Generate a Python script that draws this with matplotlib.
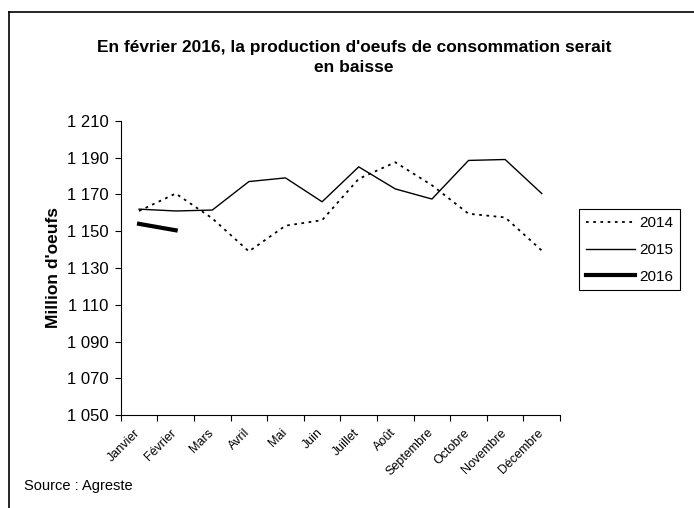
import numpy as np
import matplotlib.pyplot as plt
from matplotlib.ticker import FuncFormatter
from matplotlib.lines import Line2D
from matplotlib.transforms import ScaledTranslation

plt.rcParams['font.family'] = ['Liberation Sans', 'DejaVu Sans']

# Données (millions d'oeufs)
mois = ['Janvier', 'Février', 'Mars', 'Avril', 'Mai', 'Juin', 'Juillet',
        'Août', 'Septembre', 'Octobre', 'Novembre', 'Décembre']
prod_2014 = [1161, 1170.5, 1157, 1139, 1153, 1156, 1178.5, 1187.5, 1175, 1159.5, 1157.5, 1139.5]
prod_2015 = [1162, 1161, 1161.5, 1177, 1179, 1166, 1185, 1173, 1167.5, 1188.5, 1189, 1170.5]
prod_2016 = [1154, 1150.5]
y_ticks = np.arange(1050, 1211, 20)

fig = plt.figure(figsize=(6.94, 5.08), dpi=100)
ax = fig.add_axes([0.174, 0.183, 0.633, 0.579])

x = np.arange(len(mois))
ax.plot(x, prod_2014, color='black', linestyle=(0, (1.5, 2.5)), linewidth=1.3, label='2014')
ax.plot(x, prod_2015, color='black', linewidth=1.0, label='2015')
ax.plot(x[:len(prod_2016)], prod_2016, color='black', linewidth=3.0, label='2016')

ax.set_xlim(-0.5, len(mois) - 0.5)
ax.set_ylim(1050, 1210)
ax.set_yticks(y_ticks)
ax.yaxis.set_major_formatter(FuncFormatter(lambda v, p: f'{int(v):,}'.replace(',', ' ')))

# graduations entre les catégories, étiquettes au centre
ax.set_xticks(np.arange(-0.5, len(mois), 1))
ax.set_xticklabels([])
ax.set_xticks(x, minor=True)
ax.set_xticklabels(mois, minor=True, rotation=45, ha='right', rotation_mode='anchor', fontsize=9)
ax.tick_params(axis='x', which='minor', length=0, pad=7)
ax.tick_params(axis='x', which='major', direction='out', length=4)
ax.tick_params(axis='y', direction='out', length=4, pad=5, labelsize=12)
decal = ScaledTranslation(-5 / 100, -2 / 100, fig.dpi_scale_trans)
for lab in ax.get_xticklabels(minor=True):
    lab.set_transform(lab.get_transform() + decal)

for s in ['top', 'right']:
    ax.spines[s].set_visible(False)

ax.set_ylabel("Million d'oeufs", fontsize=12.5, fontweight='bold', labelpad=4)

fig.text(0.51, 0.887, "En février 2016, la production d'oeufs de consommation serait\nen baisse",
         ha='center', va='center', fontsize=12.5, fontweight='bold', linespacing=1.4)
fig.text(0.035, 0.043, 'Source : Agreste', ha='left', va='center', fontsize=10.5)

leg = fig.legend(loc='center left', bbox_to_anchor=(0.834, 0.508), frameon=True,
                 fancybox=False, edgecolor='black', framealpha=1, fontsize=11,
                 handlelength=3.2, handletextpad=0.3, labelspacing=0.83, borderpad=0.45,
                 borderaxespad=0)
leg.get_frame().set_linewidth(0.8)

# cadre (haut et gauche)
fig.add_artist(Line2D([9 / 694, 1], [1 - 12 / 508, 1 - 12 / 508], color='black', linewidth=1.2))
fig.add_artist(Line2D([9 / 694, 9 / 694], [0, 1 - 12 / 508], color='black', linewidth=1.2))

fig.savefig('out.png', dpi=100)
